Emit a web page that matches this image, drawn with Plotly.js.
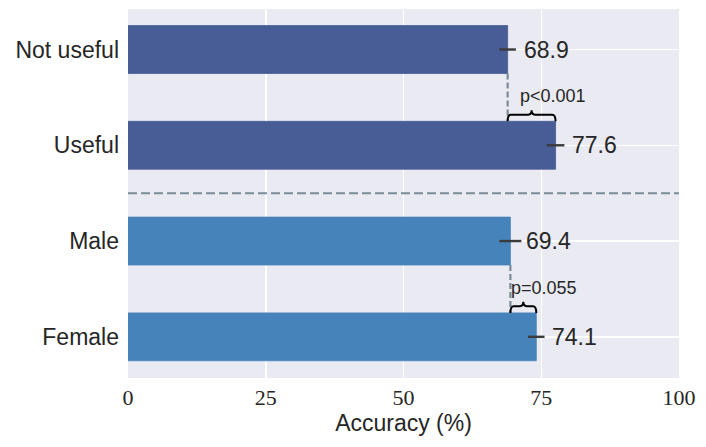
<!DOCTYPE html>
<html>
<head>
<meta charset="utf-8">
<script src="https://cdn.plot.ly/plotly-3.0.1.min.js"></script>
<style>
  body { margin: 0; background: #fff; }
  #chart { width: 706px; height: 447px; }
</style>
</head>
<body>
<div id="chart"></div>
<script>
// data
const categories = ['Not useful', 'Useful', 'Male', 'Female'];
const accuracy = [68.9, 77.6, 69.4, 74.1];
const errors = [1.5, 1.6, 2.0, 1.5];
const barColors = ['#485c96', '#485c96', '#4683ba', '#4683ba'];
const xTicks = [0, 25, 50, 75, 100];

// pairs compared: [upper index, lower index, label]
const comparisons = [
    [0, 1, 'p<0.001'],
    [2, 3, 'p=0.055']
];

const positions = categories.map((c, i) => i);
const halfBar = 0.25;
const sans = 'Liberation Sans, Arial, sans-serif';

let barTrace = {
    type: 'bar',
    orientation: 'h',
    x: accuracy,
    y: positions,
    width: 0.5,
    marker: {
        color: barColors,
        line: { color: barColors, width: 0.8 }
    },
    error_x: {
        type: 'data',
        array: errors,
        visible: true,
        color: '#3b3b3b',
        thickness: 2.4,
        width: 0
    },
    hoverinfo: 'x+y',
    showlegend: false
};

const dashColor = '#7a8c99';
let shapes = [];
let annotations = [];

// value labels next to each bar
accuracy.forEach((v, i) => {
    annotations.push({
        x: v, y: positions[i],
        xref: 'x', yref: 'y',
        text: v.toFixed(1),
        showarrow: false,
        xanchor: 'left',
        xshift: 14,
        font: { family: sans, size: 23, color: '#262626' }
    });
});

// separator between the two groups
shapes.push({
    type: 'line', xref: 'paper', yref: 'y',
    x0: 0, x1: 1, y0: 1.5, y1: 1.5,
    line: { color: dashColor, width: 2, dash: '9px,4px' }
});

// brace between two bar ends
function bracePath(xa, xb, yBase) {
    const d = 0.6;       // horizontal curl, data units
    const yh = yBase - 0.07;
    const yt = yBase - 0.115;
    const m = (xa + xb) / 2;
    return 'M' + xa + ',' + yBase +
        ' Q' + xa + ',' + yh + ' ' + (xa + d) + ',' + yh +
        ' L' + (m - d) + ',' + yh +
        ' Q' + m + ',' + yh + ' ' + m + ',' + yt +
        ' Q' + m + ',' + yh + ' ' + (m + d) + ',' + yh +
        ' L' + (xb - d) + ',' + yh +
        ' Q' + xb + ',' + yh + ' ' + xb + ',' + yBase;
}

comparisons.forEach(([a, b, label]) => {
    const xa = Math.min(accuracy[a], accuracy[b]);
    const xb = Math.max(accuracy[a], accuracy[b]);
    // dashed drop line from the upper bar end to the lower bar
    shapes.push({
        type: 'line', xref: 'x', yref: 'y',
        x0: accuracy[a], x1: accuracy[a],
        y0: positions[a] + halfBar, y1: positions[b] - halfBar,
        line: { color: dashColor, width: 2.2, dash: '6px,3px' }
    });
    shapes.push({
        type: 'path', xref: 'x', yref: 'y',
        path: bracePath(xa, xb, positions[b] - halfBar),
        line: { color: '#000', width: 2 }
    });
    annotations.push({
        x: xa, y: positions[b] - 0.51,
        xref: 'x', yref: 'y',
        text: label,
        showarrow: false,
        xanchor: 'left',
        xshift: (label === 'p<0.001') ? 10 : -1,
        font: { family: sans, size: 18, color: '#262626' }
    });
});

const layout = {
    width: 706,
    height: 447,
    margin: { l: 128, r: 27, t: 9, b: 69 },
    paper_bgcolor: '#fff',
    plot_bgcolor: '#eaeaf2',
    bargap: 0.5,
    xaxis: {
        range: [0, 100],
        tickvals: xTicks,
        ticktext: xTicks.map(String),
        showgrid: true,
        gridcolor: '#fff',
        gridwidth: 1.5,
        zeroline: false,
        showline: false,
        ticks: '',
        ticklabelstandoff: 4,
        tickfont: { family: 'Liberation Serif, DejaVu Serif, serif', size: 22, color: '#262626' },
        title: {
            text: 'Accuracy (%)',
            font: { family: sans, size: 23, color: '#262626' },
            standoff: 5
        },
        fixedrange: true
    },
    yaxis: {
        range: [3.43, -0.423],
        tickvals: positions,
        ticktext: categories,
        showgrid: true,
        gridcolor: '#fff',
        gridwidth: 1.5,
        zeroline: false,
        showline: false,
        ticks: '',
        ticklabelstandoff: 8,
        tickfont: { family: sans, size: 23, color: '#262626' },
        fixedrange: true
    },
    shapes: shapes,
    annotations: annotations
};

Plotly.newPlot('chart', [barTrace], layout, { displayModeBar: false, staticPlot: true });
</script>
</body>
</html>
